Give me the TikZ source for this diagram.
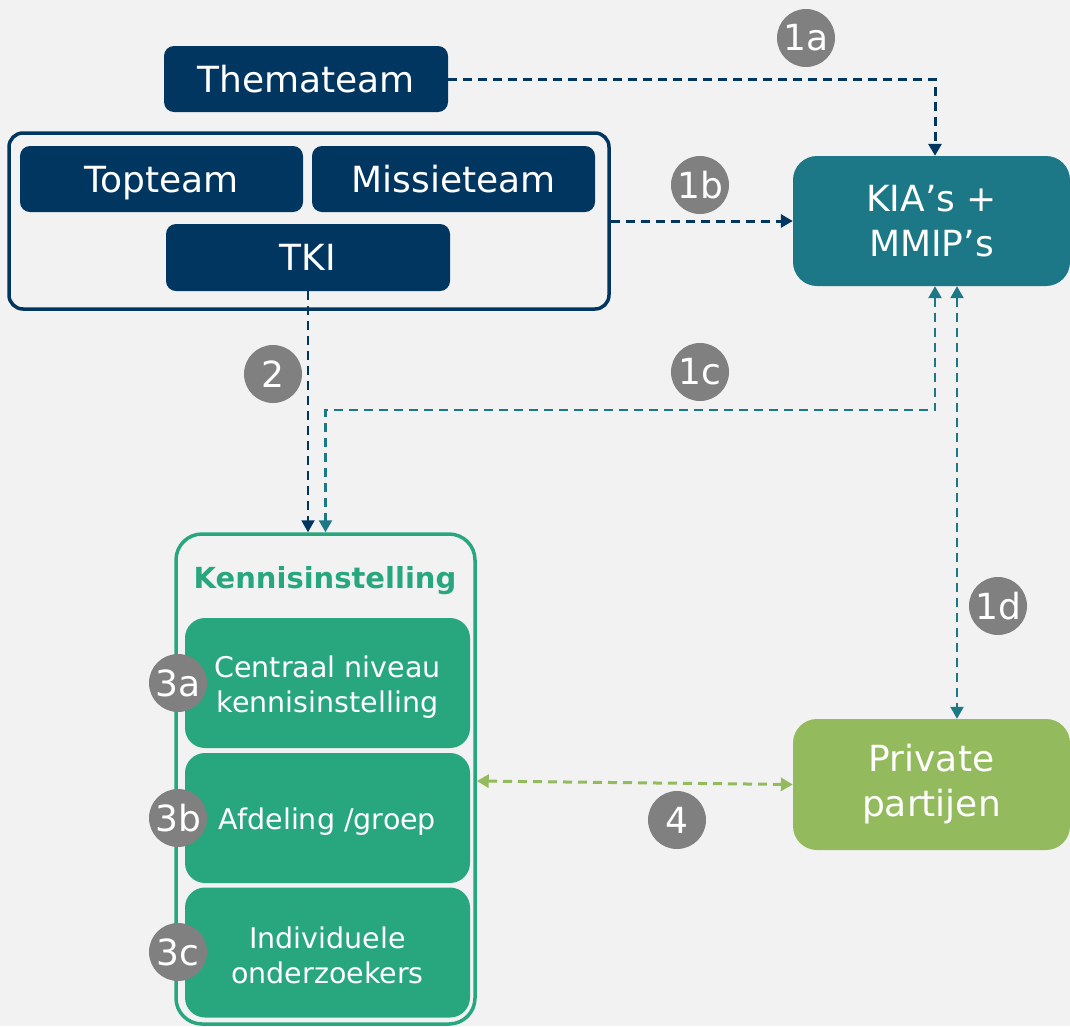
\documentclass[tikz,border=0pt]{standalone}
\usepackage{fontspec}
\setmainfont{DejaVu Sans}
\usetikzlibrary{arrows.meta,calc}
\definecolor{bgc}{HTML}{F2F2F2}
\definecolor{navy}{HTML}{00365F}
\definecolor{teal}{HTML}{1C7787}
\definecolor{kgreen}{HTML}{28A77F}
\definecolor{pgreen}{HTML}{93BA5C}
\definecolor{cgray}{HTML}{808080}
\begin{document}
\begin{tikzpicture}[x=1pt,y=-1pt,
  navybox/.style={rectangle,rounded corners=10pt,fill=navy,text=white,inner sep=0pt,
    text height=26pt,text depth=0pt,font=\fontsize{36}{45}\selectfont},
  grpbox/.style={rectangle,rounded corners=14pt,draw=navy,line width=3.5pt,inner sep=0pt},
  kiabox/.style={rectangle,rounded corners=24pt,fill=teal,text=white,inner sep=0pt,align=center,
    font=\fontsize{36}{45}\selectfont},
  privbox/.style={rectangle,rounded corners=24pt,fill=pgreen,text=white,inner sep=0pt,align=center,
    font=\fontsize{36}{45}\selectfont},
  kenbox/.style={rectangle,rounded corners=26pt,draw=kgreen,line width=3.5pt,inner sep=0pt},
  kentitle/.style={text=kgreen,font=\fontsize{29}{34}\selectfont\bfseries,inner sep=0pt},
  greenbox/.style={rectangle,rounded corners=20pt,fill=kgreen,inner sep=0pt,
    minimum width=285pt,minimum height=130pt},
  gtext/.style={text=white,inner sep=0pt,align=center,font=\fontsize{28.5}{35.5}\selectfont},
  num/.style={circle,fill=cgray,text=white,inner sep=0pt,minimum size=58pt,
    font=\fontsize{36}{40}\selectfont},
  conn/.style={dash pattern=on 9pt off 6pt,line width=2.6pt},
  tip/.style={-{Triangle[length=12pt,width=13pt]}},
  tips/.style={{Triangle[length=12pt,width=13pt]}-{Triangle[length=12pt,width=13pt]}}
]
\fill[bgc] (0,0) rectangle (1070,1026);
\useasboundingbox (0,0) rectangle (1070,1026);

% top group
\node[navybox,minimum width=284pt,minimum height=66pt] (them) at (306,79) {Themateam};
\node[grpbox,minimum width=600pt,minimum height=176pt] (grp) at (309,221) {};
\node[navybox,minimum width=283pt,minimum height=66pt] (top) at (161.5,179) {Topteam};
\node[navybox,minimum width=283pt,minimum height=66pt] (mis) at (453.5,179) {Missieteam};
\node[navybox,minimum width=284pt,minimum height=67pt] (tki) at (308,257.5) {TKI};

% right boxes
\node[kiabox,minimum width=277pt,minimum height=130pt] (kia) at (931.5,221) {KIA’s +\\MMIP’s};
\node[privbox,minimum width=277pt,minimum height=131pt] (priv) at (931.5,784.5) {Private\\partijen};

% kennisinstelling
\node[kenbox,minimum width=299pt,minimum height=490pt] (ken) at (325.5,779) {};
\node[kentitle] (ktitle) at (325,581) {Kennisinstelling};
\node[greenbox] (k3a) at (327.5,683) {};
\node[greenbox] (k3b) at (327.5,818) {};
\node[greenbox] (k3c) at (327.5,952.5) {};
\node[gtext] (t3a) at ([yshift=-4pt]k3a.center) {Centraal niveau\\kennisinstelling};
\node[gtext] (t3b) at ([yshift=-4pt]k3b.center) {Afdeling /groep};
\node[gtext] (t3c) at ([yshift=-3pt]k3c.center) {Individuele\\onderzoekers};

% connectors
\draw[conn,navy,line width=3pt,tip] (them.east) -| ([xshift=3.5pt]kia.north);
\draw[conn,navy,line width=3pt,tip] (grp.east) -- (grp.east -| kia.west);
\draw[conn,navy,line width=2pt,tip] (tki.south) -- (tki.south |- ken.north);
\draw[conn,teal,line width=2.4pt,tips] ([xshift=3.5pt]kia.south) -- ++(0,124) -| (ken.north);
\draw[conn,teal,line width=2pt,tips] ([xshift=25.5pt]kia.south) -- ([xshift=25.5pt]kia.south |- priv.north);
\draw[conn,pgreen,line width=3pt,tips] ([yshift=-2pt]ken.east) -- (priv.west);

% numbers
\node[num] (n1a) at (806,38) {1a};
\node[num] (n1b) at (700,185) {1b};
\node[num] (n2) at (273,374) {2};
\node[num] (n1c) at (700,372) {1c};
\node[num] (n1d) at (998,606) {1d};
\node[num] (n4) at (677,820) {4};
\node[num] (n3a) at (178,683) {3a};
\node[num] (n3b) at (178,818) {3b};
\node[num] (n3c) at (178,952) {3c};
\end{tikzpicture}
\end{document}
